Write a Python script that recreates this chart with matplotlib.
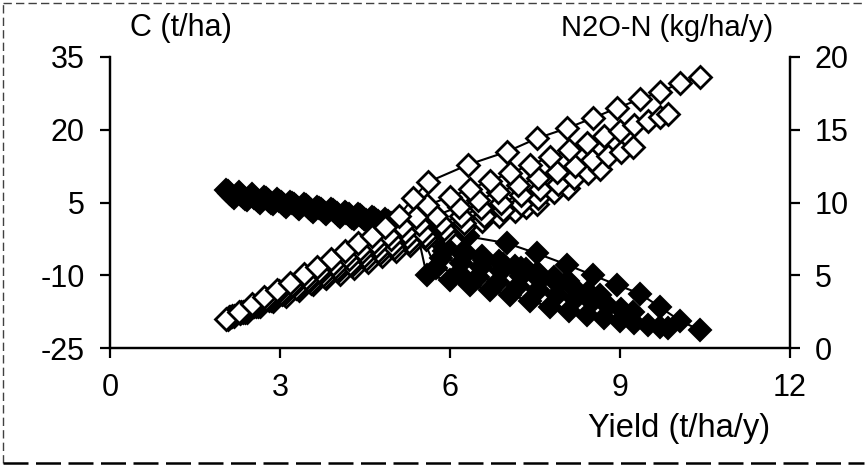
import matplotlib
matplotlib.use("Agg")
import matplotlib.pyplot as plt
from matplotlib.lines import Line2D

plt.rcParams['font.family'] = ['Liberation Sans', 'DejaVu Sans']
plt.rcParams['axes.unicode_minus'] = False

# yield (t/ha/y), soil C change (t/ha) and N2O-N (kg/ha/y) for six yield scenarios
yield_1 = [2.05, 2.28, 2.5, 2.72, 2.95, 3.18, 3.42, 3.66, 3.9, 4.14, 4.38, 4.62, 4.86, 5.1, 5.35,
           5.61, 6.32, 7.01, 7.53, 8.06, 8.52, 8.95, 9.35, 9.71, 10.06, 10.41]
c_1 = [7.6, 7.1, 6.7, 6.2, 5.7, 5.2, 4.7, 4.1, 3.6, 3.1, 2.6, 2.0, 1.5, 0.9, 0.3,
       -0.6, -2.0, -3.4, -5.5, -7.8, -10.0, -12.0, -13.8, -16.6, -19.4, -21.3]
n2o_1 = [2.0, 2.5, 3.0, 3.5, 4.0, 4.5, 5.1, 5.6, 6.1, 6.7, 7.2, 7.7, 8.3, 9.1, 10.3,
         11.4, 12.6, 13.5, 14.4, 15.1, 15.8, 16.5, 17.1, 17.6, 18.2, 18.6]

yield_2 = [2.08, 2.3, 2.52, 2.75, 2.98, 3.21, 3.45, 3.69, 3.93, 4.17, 4.41, 4.65, 4.9, 5.15, 5.4,
           5.59, 6.0, 6.35, 6.7, 7.06, 7.42, 7.76, 8.1, 8.42, 8.72, 9.0, 9.25, 9.5, 9.7, 9.85]
c_2 = [7.3, 6.8, 6.4, 5.9, 5.4, 5.0, 4.4, 3.9, 3.4, 2.9, 2.4, 1.8, 1.2, 0.7, 0.0,
       -10.0, -11.0, -12.0, -13.0, -14.1, -15.3, -16.5, -17.3, -18.1, -18.8, -19.4, -19.9, -20.3, -20.6, -20.8]
n2o_2 = [2.0, 2.4, 2.9, 3.4, 3.9, 4.3, 4.8, 5.3, 5.8, 6.3, 6.8, 7.3, 7.8, 8.4, 9.0,
         9.8, 10.4, 10.9, 11.5, 12.0, 12.6, 13.1, 13.6, 14.1, 14.6, 14.9, 15.3, 15.6, 15.9, 16.1]

yield_3 = [2.1, 2.32, 2.55, 2.78, 3.01, 3.25, 3.49, 3.73, 3.97, 4.21, 4.45, 4.7, 4.95, 5.2, 5.45,
           5.75, 6.15, 6.5, 6.85, 7.2, 7.55, 7.88, 8.2, 8.5, 8.78, 9.02, 9.23]
c_3 = [7.0, 6.5, 6.0, 5.5, 5.1, 4.6, 4.1, 3.6, 3.1, 2.6, 2.0, 1.4, 0.8, 0.2, -0.5,
       -8.5, -9.5, -10.4, -11.3, -12.2, -13.1, -14.0, -14.8, -15.6, -16.3, -16.9, -17.5]
n2o_3 = [2.1, 2.5, 2.9, 3.4, 3.8, 4.3, 4.7, 5.2, 5.6, 6.1, 6.6, 7.0, 7.5, 8.0, 8.5,
         9.1, 9.7, 10.2, 10.7, 11.2, 11.7, 12.1, 12.5, 12.9, 13.2, 13.5, 13.8]

yield_4 = [2.12, 2.35, 2.58, 2.81, 3.04, 3.28, 3.52, 3.76, 4.0, 4.24, 4.48, 4.73, 4.98, 5.24, 5.5,
           5.85, 6.2, 6.55, 6.9, 7.25, 7.58, 7.9, 8.18, 8.43, 8.65]
c_4 = [6.7, 6.2, 5.7, 5.3, 4.8, 4.3, 3.8, 3.3, 2.8, 2.3, 1.7, 1.1, 0.5, -0.1, -0.8,
       -6.5, -7.4, -8.3, -9.2, -10.1, -11.0, -11.9, -12.7, -13.4, -14.0]
n2o_4 = [2.1, 2.5, 2.9, 3.3, 3.7, 4.1, 4.6, 5.0, 5.4, 5.8, 6.3, 6.7, 7.1, 7.6, 8.0,
         8.6, 9.1, 9.6, 10.0, 10.5, 10.9, 11.3, 11.7, 12.0, 12.3]

yield_5 = [2.15, 2.38, 2.61, 2.84, 3.07, 3.31, 3.55, 3.79, 4.03, 4.27, 4.52, 4.77, 5.02, 5.28, 5.55,
           5.9, 6.25, 6.6, 6.93, 7.25, 7.55, 7.83, 8.08]
c_5 = [6.3, 5.8, 5.4, 4.9, 4.4, 3.9, 3.4, 2.9, 2.4, 1.9, 1.3, 0.7, 0.1, -0.5, -1.1,
       -5.0, -5.9, -6.8, -7.7, -8.6, -9.5, -10.4, -11.2]
n2o_5 = [2.2, 2.5, 2.9, 3.3, 3.7, 4.1, 4.5, 4.9, 5.3, 5.7, 6.1, 6.5, 6.9, 7.3, 7.7,
         8.2, 8.6, 9.1, 9.5, 9.9, 10.3, 10.7, 11.0]

yield_6 = [2.18, 2.41, 2.64, 2.87, 3.1, 3.34, 3.58, 3.82, 4.06, 4.3, 4.55, 4.8, 5.05, 5.3, 5.58,
           5.92, 6.25, 6.57, 6.87, 7.15, 7.35, 7.53]
c_6 = [6.0, 5.5, 5.0, 4.6, 4.1, 3.6, 3.1, 2.6, 2.1, 1.6, 1.0, 0.4, -0.2, -0.8, -1.5,
       -4.0, -5.0, -6.0, -7.0, -8.0, -8.8, -9.6]
n2o_6 = [2.2, 2.5, 2.9, 3.2, 3.6, 4.0, 4.4, 4.8, 5.1, 5.5, 5.9, 6.3, 6.7, 7.1, 7.5,
         7.9, 8.3, 8.7, 9.1, 9.4, 9.7, 9.9]

yields = [yield_1, yield_2, yield_3, yield_4, yield_5, yield_6]
c_vals = [c_1, c_2, c_3, c_4, c_5, c_6]
n2o_vals = [n2o_1, n2o_2, n2o_3, n2o_4, n2o_5, n2o_6]

x_ticks = [0, 3, 6, 9, 12]
c_ticks = [-25, -10, 5, 20, 35]
n2o_ticks = [0, 5, 10, 15, 20]

fig = plt.figure(figsize=(8.67, 4.66), dpi=100)
ax = fig.add_axes([110 / 867, 1 - 348 / 466, 680 / 867, 291 / 466])
ax2 = ax.twinx()

# filled diamonds: carbon on the left axis
for x, c in reversed(list(zip(yields, c_vals))):
    ax.plot(x, c, '-', color='black', lw=1.5, marker='D', ms=11, mfc='black',
            mec='black', mew=1.5)

# open diamonds: N2O on the right axis, drawn over the carbon points
for x, n in reversed(list(zip(yields, n2o_vals))):
    ax2.plot(x, n, '-', color='black', lw=1.5, marker='D', ms=11, mfc='white',
             mec='black', mew=2.0)

ax.set_xlim(0, 12)
ax.set_ylim(-25, 35)
ax2.set_ylim(0, 20)
ax.set_xticks(x_ticks)
ax.set_yticks(c_ticks)
ax2.set_yticks(n2o_ticks)

for a in (ax, ax2):
    a.spines['top'].set_visible(False)
    for s in ('left', 'right', 'bottom'):
        a.spines[s].set_linewidth(1.6)
    a.tick_params(direction='out', length=7, width=1.6, labelsize=22, pad=11)

fig.text(130 / 867, 1 - 28 / 466, 'C (t/ha)', ha='left', va='center', fontsize=22)
fig.text(773 / 867, 1 - 28 / 466, 'N2O-N (kg/ha/y)', ha='right', va='center', fontsize=21)
fig.text(770 / 867, 1 - 428 / 466, 'Yield (t/ha/y)', ha='right', va='center', fontsize=23.5)

# dashed frame around the figure
frame_kw = dict(transform=fig.transFigure, color='0.25', lw=1.0, ls=(0, (6, 3)))
fig.add_artist(Line2D([0.004, 0.004], [0.006, 0.994], **frame_kw))
fig.add_artist(Line2D([0.004, 0.996], [0.994, 0.994], **frame_kw))
fig.add_artist(Line2D([0.004, 0.996], [0.006, 0.006], color='black', lw=1.8,
                      ls=(0, (10, 3)), transform=fig.transFigure))

fig.savefig('out.png', dpi=100)
